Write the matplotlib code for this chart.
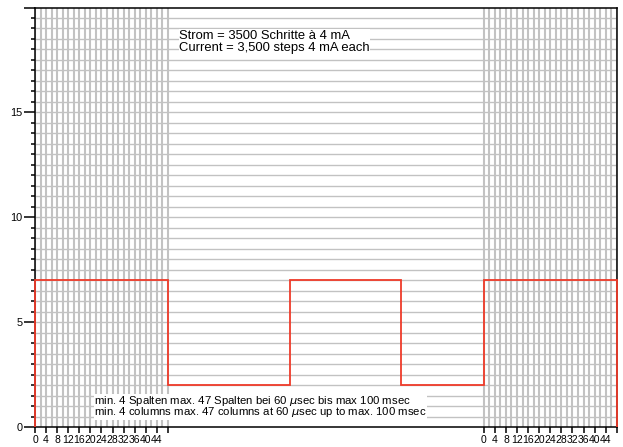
import matplotlib
matplotlib.use("Agg")
import matplotlib.pyplot as plt
import numpy as np

plt.rcParams["font.family"] = ["Liberation Sans", "DejaVu Sans"]

# two column blocks (0..48 each), separated by a gap on the time axis
block_starts = [0, 162]
block_width = 48
column_step = 2
column_ticks = [0, 4, 8, 12, 16, 20, 24, 28, 32, 36, 40, 44]
column_labels = [str(v) for v in column_ticks]

# current signal as steps
signal_edges = [0, 48, 92, 132, 162, 210]
signal_levels = [7, 2, 7, 2, 7]

y_max = 20
y_major = [0, 5, 10, 15, 20]
y_labels = ["0", "5", "10", "15", ""]
row_step = 0.5

top_lines = ["Strom = 3500 Schritte à 4 mA",
             "Current = 3,500 steps 4 mA each"]
bottom_lines = ["min. 4 Spalten max. 47 Spalten bei 60 $\\mu$sec bis max 100 msec",
                "min. 4 columns max. 47 columns at 60 $\\mu$sec up to max. 100 msec"]

fig = plt.figure(figsize=(6.23, 4.47), dpi=100)
ax = fig.add_axes([0.0562, 0.0447, 0.9338, 0.9385])
ax.set_xlim(signal_edges[0], signal_edges[-1])
ax.set_ylim(0, y_max)

grid_col = "#c2c2c2"
for start in block_starts:
    xs = start + np.arange(0, block_width + 1, column_step)
    ax.vlines(xs, 0, y_max, color=grid_col, lw=1.5, zorder=1)
ax.hlines(np.arange(row_step, y_max, row_step), signal_edges[0], signal_edges[-1],
          color=grid_col, lw=1.0, zorder=1)

# va="baseline" on multi-line text aligns the last line
box = dict(facecolor="white", edgecolor="none", pad=0.2)
ax.text(52, 17.95, "\n".join(top_lines), fontsize=9.4, va="baseline",
        ha="left", linespacing=1.0, zorder=2, bbox=box)
ax.text(21.2, 0.55, "\n".join(bottom_lines), fontsize=8.2, va="baseline",
        ha="left", linespacing=0.74, zorder=2, bbox=box)

ax.stairs(signal_levels, signal_edges, baseline=0, color="#ef3b2a", lw=1.3,
          zorder=6, clip_on=False)

xt = []
xl = []
for start in block_starts:
    xt += [start + v for v in column_ticks] + [start + block_width]
    xl += column_labels + [""]
ax.set_xticks(xt)
ax.set_xticklabels(xl)
ax.set_yticks(y_major)
ax.set_yticklabels(y_labels)
ax.set_yticks(np.arange(0, y_max + 0.01, row_step), minor=True)

ax.tick_params(axis="x", direction="out", length=4.5, width=1.1, pad=1.5,
               labelsize=7.5)
ax.tick_params(axis="y", which="major", direction="out", length=8, width=1.1,
               pad=1, labelsize=7.8)
ax.tick_params(axis="y", which="minor", direction="out", length=3, width=1.1)

for s in ax.spines.values():
    s.set_linewidth(1.1)
    s.set_color("black")
    s.set_zorder(5)

fig.savefig("out.png", dpi=100)
